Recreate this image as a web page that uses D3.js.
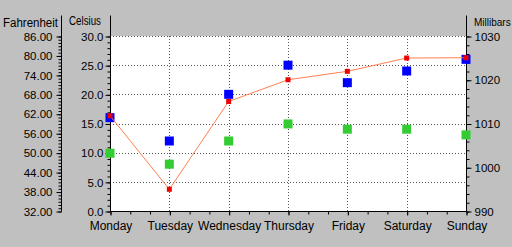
<!DOCTYPE html>
<html>
<head>
<meta charset="utf-8">
<script src="https://cdn.jsdelivr.net/npm/d3@7"></script>
<style>
  body { margin: 0; background: #c0c0c0; }
  svg { display: block; font-family: "Liberation Sans", Arial, sans-serif; }
  .axis text { font-size: 12px; fill: #000; }
  .axis.num text { font-size: 11.5px; }
  .axis line, .axis path { stroke: #000; }
</style>
</head>
<body>
<script>
// data
const days = ['Monday', 'Tuesday', 'Wednesday', 'Thursday', 'Friday', 'Saturday', 'Sunday']
const tempF = [61.4, 38.7, 65.8, 72.5, 75.1, 79.2, 79.3]      // red line, Fahrenheit
const tempC = [16, 12, 20, 25, 22, 24, 26]                     // blue squares, Celsius
const pressure = [1003.2, 1000.7, 1006, 1009.9, 1008.7, 1008.7, 1007.4] // green, millibars

const fTicks = d3.range(32, 87, 6)
const cTicks = d3.range(0, 31, 5)
const mTicks = d3.range(990, 1031, 10)

const WIDTH = 512
const HEIGHT = 247
const LEFT = 110, RIGHT = 466, TOP = 36, BOTTOM = 211

const svg = d3.select('body').append('svg').attr('width', WIDTH).attr('height', HEIGHT)

const x = d3.scalePoint().domain(days).range([LEFT, RIGHT])
const xMinor = d3.scaleLinear().domain([0, days.length - 1]).range([LEFT, RIGHT])
const yC = d3.scaleLinear().domain([0, 30]).range([BOTTOM, TOP])
const yF = d3.scaleLinear().domain([32, 86]).range([BOTTOM, TOP])
const yM = d3.scaleLinear().domain([990, 1030]).range([BOTTOM, TOP])

// plot area
svg.append('rect').attr('x', LEFT).attr('y', TOP)
  .attr('width', RIGHT - LEFT).attr('height', BOTTOM - TOP).attr('fill', '#fff')

// dotted grid
const grid = svg.append('g').attr('stroke', '#555').attr('stroke-dasharray', '1,2')
grid.selectAll('.h').data(cTicks.slice(1)).enter().append('line')
  .attr('x1', LEFT).attr('x2', RIGHT)
  .attr('y1', d => Math.round(yC(d)) + 0.5).attr('y2', d => Math.round(yC(d)) + 0.5)
grid.selectAll('.v').data(days).enter().append('line')
  .attr('x1', d => Math.round(x(d)) + 0.5).attr('x2', d => Math.round(x(d)) + 0.5)
  .attr('y1', TOP).attr('y2', BOTTOM)

// helper: axis with minor ticks and a domain line going up past the plot
function vAxis(pos, scale, axisFn, major, minor, fmt, pad) {
  const g = svg.append('g').attr('class', 'axis num').attr('transform', `translate(${pos + 0.5},0.5)`)
  g.append('g').call(axisFn(scale).tickValues(minor).tickSize(3).tickFormat(''))
    .call(s => s.select('.domain').remove())
  g.append('g').call(axisFn(scale).tickValues(major).tickSize(5).tickPadding(pad).tickFormat(fmt))
    .call(s => s.select('.domain').remove())
  g.append('line').attr('x1', 0).attr('x2', 0).attr('y1', 15).attr('y2', BOTTOM).attr('stroke', '#000')
  return g
}

vAxis(61, yF, d3.axisLeft, fTicks, d3.range(32, 87, 1), d3.format('.2f'), 4)
vAxis(LEFT, yC, d3.axisLeft, cTicks, d3.range(0, 31, 1), d3.format('.1f'), 2)
vAxis(RIGHT, yM, d3.axisRight, mTicks, d3.range(990, 1031, 2), d3.format('d'), 3)

// bottom axis
const xg = svg.append('g').attr('class', 'axis').attr('transform', `translate(0.5,${BOTTOM + 0.5})`)
xg.append('g').call(d3.axisBottom(xMinor).tickValues(d3.range(0, 19).map(i => i / 3)).tickSize(3).tickFormat(''))
  .call(s => s.select('.domain').remove())
xg.append('g').call(d3.axisBottom(x).tickSize(4).tickPadding(6))
  .call(s => s.select('.domain').remove())
xg.append('line').attr('x1', LEFT).attr('x2', RIGHT).attr('stroke', '#000')

// axis titles
const titles = svg.append('g').attr('font-size', 12)
titles.append('text').attr('x', 3).attr('y', 27).attr('textLength', 55)
  .attr('lengthAdjust', 'spacingAndGlyphs').text('Fahrenheit')
titles.append('text').attr('x', 69).attr('y', 25).attr('textLength', 32)
  .attr('lengthAdjust', 'spacingAndGlyphs').text('Celsius')
titles.append('text').attr('x', 474).attr('y', 26).attr('font-size', 10).text('Millibars')

// green: pressure
svg.selectAll('.green').data(pressure).enter().append('rect')
  .attr('x', (d, i) => x(days[i]) - 4.5).attr('y', d => yM(d) - 4.5)
  .attr('width', 9).attr('height', 9).attr('fill', '#33cc33')

// blue: celsius
svg.selectAll('.blue').data(tempC).enter().append('rect')
  .attr('x', (d, i) => x(days[i]) - 4.5).attr('y', d => yC(d) - 4.5)
  .attr('width', 9).attr('height', 9).attr('fill', '#0000ff')

// red line: fahrenheit
const line = d3.line().x((d, i) => x(days[i])).y(d => yF(d))
svg.append('path').datum(tempF).attr('d', line)
  .attr('fill', 'none').attr('stroke', '#ff7f50').attr('stroke-width', 1)
svg.selectAll('.red').data(tempF).enter().append('rect')
  .attr('x', (d, i) => x(days[i]) - 2.5).attr('y', d => yF(d) - 2.5)
  .attr('width', 5).attr('height', 5).attr('fill', '#ee0000')
</script>
</body>
</html>
